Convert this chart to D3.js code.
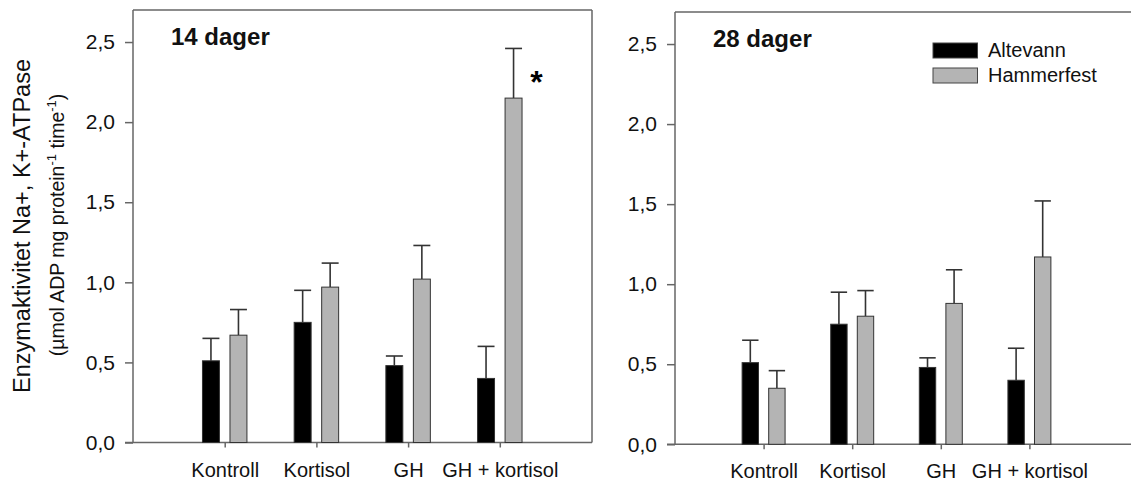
<!DOCTYPE html>
<html lang="no">
<head>
<meta charset="UTF-8">
<title>Enzymaktivitet Na+, K+-ATPase</title>
<script src="https://d3js.org/d3.v7.min.js"></script>
<style>
  body { margin: 0; background: #fff; overflow: hidden; }
  svg { font-family: "Liberation Sans", Arial, sans-serif; }
  .frame { stroke: #666; stroke-width: 1.5; fill: none; }
  .tick line { stroke: #666; stroke-width: 1.5; }
  .tick text { fill: #111; font-size: 20px; }
  .ylab .tick text { font-size: 21px; }
  .err { stroke: #333; stroke-width: 1.6; }
</style>
</head>
<body>
<div id="chart"></div>
<script>
// data
var categories = ["Kontroll", "Kortisol", "GH", "GH + kortisol"];
var series = ["Altevann", "Hammerfest"];
var seriesColors = ["#000000", "#b4b4b4"];

var alt14 = [0.51, 0.75, 0.48, 0.40];
var alt14Err = [0.14, 0.20, 0.06, 0.20];
var ham14 = [0.67, 0.97, 1.02, 2.15];
var ham14Err = [0.16, 0.15, 0.21, 0.31];

var alt28 = [0.51, 0.75, 0.48, 0.40];
var alt28Err = [0.14, 0.20, 0.06, 0.20];
var ham28 = [0.35, 0.80, 0.88, 1.17];
var ham28Err = [0.11, 0.16, 0.21, 0.35];

var yTicks = [0, 0.5, 1.0, 1.5, 2.0, 2.5];

var width = 1131, height = 481;

var svg = d3.select("#chart").append("svg")
    .attr("width", width)
    .attr("height", height);

var locale = d3.formatLocale({decimal: ",", thousands: " ", grouping: [3], currency: ["", " kr"]});
var fmt = locale.format(".1f");

var panels = [
  {title: "14 dager", x0: 133, x1: 591.5, top: 10, bottom: 442.5, frameRight: 592,
   values: [alt14, ham14], errs: [alt14Err, ham14Err], star: 3, legend: false},
  {title: "28 dager", x0: 675, x1: 1118, top: 12, bottom: 444.3, frameRight: null,
   values: [alt28, ham28], errs: [alt28Err, ham28Err], star: -1, legend: true}
];

var barW = 0.185, barOff = 0.15;

panels.forEach(function(p) {
  var x = d3.scaleLinear().domain([0, 5]).range([p.x0, p.x1]);
  var y = d3.scaleLinear().domain([0, 2.7]).range([p.bottom, p.top]);
  var g = svg.append("g");

  // frame
  var right = p.frameRight ? p.frameRight : width + 5;
  g.append("line").attr("class", "frame")
    .attr("x1", p.x0).attr("x2", right).attr("y1", p.top).attr("y2", p.top);
  g.append("line").attr("class", "frame")
    .attr("x1", p.x0).attr("x2", p.x0).attr("y1", p.top).attr("y2", p.bottom);
  if (p.frameRight) {
    g.append("line").attr("class", "frame")
      .attr("x1", right).attr("x2", right).attr("y1", p.top).attr("y2", p.bottom);
  }
  g.append("line").attr("class", "frame")
    .attr("x1", p.x0 - 8).attr("x2", right).attr("y1", p.bottom).attr("y2", p.bottom);

  // y axis
  var yAxis = g.append("g")
    .attr("class", "ylab")
    .attr("transform", "translate(" + p.x0 + ",0)")
    .call(d3.axisLeft(y).tickValues(yTicks).tickSize(8).tickPadding(10).tickFormat(fmt));
  yAxis.select(".domain").remove();

  // x axis
  var xAxis = g.append("g")
    .attr("transform", "translate(0," + p.bottom + ")")
    .call(d3.axisBottom(x).tickValues([1, 2, 3, 4]).tickSize(5)
      .tickFormat(function(d) { return categories[d - 1]; }));
  xAxis.select(".domain").remove();
  xAxis.selectAll("text").attr("y", 34).attr("dy", 0);

  // bars + error bars
  p.values.forEach(function(vals, s) {
    var off = s === 0 ? -barOff : barOff;
    var data = vals.map(function(v, i) { return {i: i + 1, v: v, e: p.errs[s][i]}; });
    g.selectAll(".err" + s).data(data).enter().append("line")
      .attr("class", "err")
      .attr("x1", function(d) { return x(d.i + off); })
      .attr("x2", function(d) { return x(d.i + off); })
      .attr("y1", function(d) { return y(d.v); })
      .attr("y2", function(d) { return y(d.v + d.e); });
    g.selectAll(".cap" + s).data(data).enter().append("line")
      .attr("class", "err")
      .attr("x1", function(d) { return x(d.i + off - barW / 2); })
      .attr("x2", function(d) { return x(d.i + off + barW / 2); })
      .attr("y1", function(d) { return y(d.v + d.e); })
      .attr("y2", function(d) { return y(d.v + d.e); });
    g.selectAll(".bar" + s).data(data).enter().append("rect")
      .attr("x", function(d) { return x(d.i + off - barW / 2); })
      .attr("width", x(barW) - x(0))
      .attr("y", function(d) { return y(d.v); })
      .attr("height", function(d) { return y(0) - y(d.v); })
      .attr("fill", seriesColors[s])
      .attr("stroke", "#333")
      .attr("stroke-width", 1);
  });

  // significance mark
  if (p.star >= 0) {
    g.append("text")
      .attr("x", x(p.star + 1 + barOff) + 23)
      .attr("y", y(2.3) + 19)
      .attr("text-anchor", "middle")
      .attr("font-size", 32)
      .attr("font-weight", "bold")
      .text("*");
  }

  // panel title
  g.append("text")
    .attr("x", p.x0 + 38)
    .attr("y", p.top + 35)
    .attr("font-size", 24)
    .attr("font-weight", "bold")
    .attr("fill", "#111")
    .text(p.title);

  // legend
  if (p.legend) {
    var lg = g.append("g").attr("transform", "translate(933,43)");
    series.forEach(function(name, s) {
      lg.append("rect")
        .attr("x", 0).attr("y", s * 25)
        .attr("width", 44.5).attr("height", 15)
        .attr("fill", seriesColors[s])
        .attr("stroke", "#444").attr("stroke-width", 1);
      lg.append("text")
        .attr("x", 55).attr("y", s * 25 + 14)
        .attr("font-size", 20)
        .attr("fill", "#111")
        .text(name);
    });
  }
});

// y axis title
var yt = svg.append("g").attr("transform", "translate(29.5,226) rotate(-90)");
yt.append("text")
  .attr("text-anchor", "middle")
  .attr("font-size", 23.5)
  .attr("fill", "#111")
  .text("Enzymaktivitet Na+, K+-ATPase");

var sub = svg.append("text")
  .attr("transform", "translate(64,225) rotate(-90)")
  .attr("text-anchor", "middle")
  .attr("font-size", 19.5)
  .attr("fill", "#111");
sub.append("tspan").text("(\u00b5mol ADP mg protein");
sub.append("tspan").attr("font-size", 13).attr("dy", -8).text("-1");
sub.append("tspan").attr("dy", 8).text(" time");
sub.append("tspan").attr("font-size", 13).attr("dy", -8).text("-1");
sub.append("tspan").attr("dy", 8).text(")");
</script>
</body>
</html>
